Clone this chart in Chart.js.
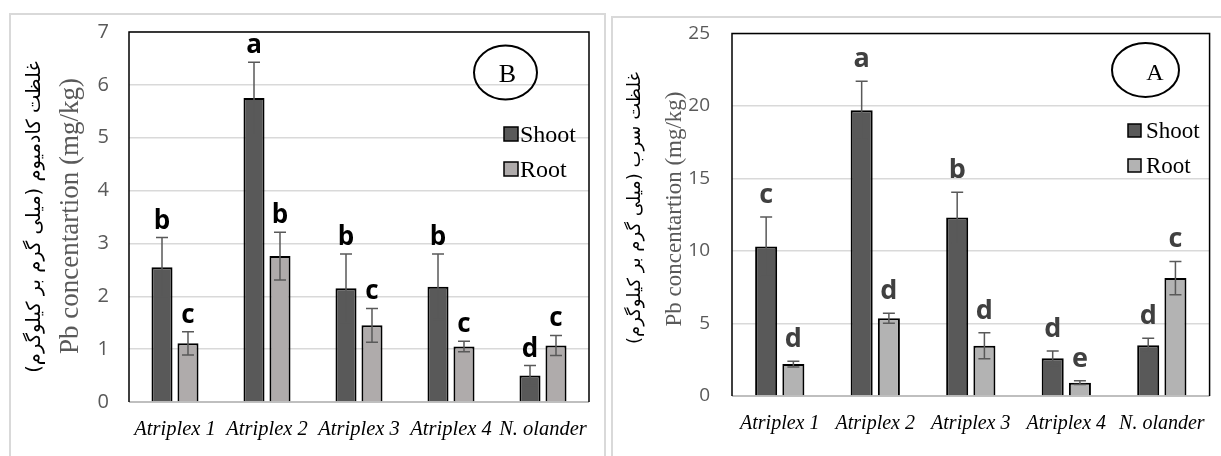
<!DOCTYPE html>
<html>
<head>
<meta charset="utf-8">
<script src="https://cdn.jsdelivr.net/npm/chart.js@4.4.1/dist/chart.umd.min.js"></script>
<style>
  html, body { margin: 0; padding: 0; background: #fff; }
  body { width: 1221px; height: 456px; position: relative; overflow: hidden; }
  .frame { position: absolute; box-sizing: border-box; border: 2px solid #d9d9d9; border-bottom: none; }
  #frameB { left: 9px; top: 13px; width: 597px; height: 460px; }
  #frameA { left: 611px; top: 16px; width: 700px; height: 460px; }
  canvas { position: absolute; top: 0; }
  #chartB { left: 0; }
  #chartA { left: 608px; }
</style>
</head>
<body>
<div class="frame" id="frameB"></div>
<div class="frame" id="frameA"></div>
<canvas id="chartB" width="608" height="456"></canvas>
<canvas id="chartA" width="613" height="456"></canvas>
<script>
const categories = ["Atriplex 1", "Atriplex 2", "Atriplex 3", "Atriplex 4", "N. olander"];

// B: cadmium
const cdShoot = [2.55, 5.75, 2.15, 2.18, 0.5];
const cdShootErr = [0.56, 0.68, 0.65, 0.62, 0.19];
const cdRoot = [1.11, 2.76, 1.45, 1.05, 1.07];
const cdRootErr = [0.22, 0.45, 0.32, 0.1, 0.19];
const cdShootLetters = ["b", "a", "b", "b", "d"];
const cdRootLetters = ["c", "b", "c", "c", "c"];

// A: lead
const pbShoot = [10.3, 19.7, 12.3, 2.6, 3.5];
const pbShootErr = [2.05, 2.0, 1.75, 0.5, 0.48];
const pbRoot = [2.2, 5.36, 3.46, 0.92, 8.13];
const pbRootErr = [0.2, 0.35, 0.9, 0.13, 1.15];
const pbShootLetters = ["c", "a", "b", "d", "d"];
const pbRootLetters = ["d", "d", "d", "e", "c"];

const SHOOT_COLOR = "#595959";
const ENGLISH_TITLE = "Pb concentartion (mg/kg)";

const decorPlugin = {
  id: "decor",
  beforeDatasetsDraw(chart) {
    const { ctx, chartArea: a } = chart;
    ctx.save();
    ctx.strokeStyle = "#bfbfbf";
    ctx.lineWidth = 2;
    ctx.beginPath();
    ctx.moveTo(a.left, a.bottom);
    ctx.lineTo(a.right, a.bottom);
    ctx.stroke();
    ctx.strokeStyle = "#000";
    ctx.lineWidth = 1.5;
    ctx.beginPath();
    ctx.moveTo(a.left, a.bottom);
    ctx.lineTo(a.left, a.top);
    ctx.lineTo(a.right, a.top);
    ctx.lineTo(a.right, a.bottom);
    ctx.stroke();
    ctx.restore();
  },
  afterDatasetsDraw(chart, args, opts) {
    const { ctx } = chart;
    const yScale = chart.scales.y;
    ctx.save();

    // error bars and letters
    chart.data.datasets.forEach((dataset, di) => {
      const meta = chart.getDatasetMeta(di);
      meta.data.forEach((bar, i) => {
        const v = dataset.data[i];
        const e = opts.errors[di][i];
        const yTop = yScale.getPixelForValue(v + e);
        const yBot = yScale.getPixelForValue(v - e);
        ctx.strokeStyle = "#595959";
        ctx.lineWidth = 1.5;
        ctx.beginPath();
        ctx.moveTo(bar.x, yTop);
        ctx.lineTo(bar.x, yBot);
        ctx.moveTo(bar.x - 6, yTop);
        ctx.lineTo(bar.x + 6, yTop);
        ctx.moveTo(bar.x - 6, yBot);
        ctx.lineTo(bar.x + 6, yBot);
        ctx.stroke();

        ctx.fillStyle = opts.letterColor;
        ctx.font = opts.letterFont;
        ctx.textAlign = "center";
        ctx.textBaseline = "alphabetic";
        ctx.fillText(opts.letters[di][i], bar.x, yTop - opts.letterGap);
      });
    });

    // legend
    const lg = opts.legend;
    chart.data.datasets.forEach((dataset, di) => {
      const y = lg.y + di * lg.step;
      ctx.fillStyle = dataset.backgroundColor;
      ctx.fillRect(lg.x, y, lg.box, lg.box);
      ctx.strokeStyle = "#000";
      ctx.lineWidth = 1.5;
      ctx.strokeRect(lg.x, y, lg.box, lg.box);
      ctx.fillStyle = "#000";
      ctx.font = lg.font;
      ctx.textAlign = "left";
      ctx.textBaseline = "alphabetic";
      ctx.fillText(dataset.label, lg.textX, y + lg.box + 1);
    });

    // panel badge
    const b = opts.badge;
    ctx.strokeStyle = "#000";
    ctx.lineWidth = 2;
    ctx.beginPath();
    ctx.ellipse(b.cx, b.cy, b.rx, b.ry, 0, 0, Math.PI * 2);
    ctx.stroke();
    ctx.fillStyle = "#000";
    ctx.font = b.font;
    ctx.textAlign = "center";
    ctx.fillText(b.text, b.tx, b.ty);

    // rotated axis titles
    opts.titles.forEach((t) => {
      ctx.save();
      ctx.translate(t.x, t.y);
      ctx.rotate(-Math.PI / 2);
      ctx.font = t.font;
      ctx.fillStyle = t.color;
      ctx.direction = t.rtl ? "rtl" : "ltr";
      ctx.textAlign = "center";
      ctx.textBaseline = "middle";
      ctx.fillText(t.text, 0, 0);
      ctx.restore();
    });
    ctx.restore();
  },
};

function makeChart(canvasId, setup) {
  return new Chart(document.getElementById(canvasId), {
    type: "bar",
    data: {
      labels: categories,
      datasets: [
        {
          label: "Shoot",
          data: setup.shoot,
          backgroundColor: SHOOT_COLOR,
          borderColor: "#000",
          borderWidth: 2,
          categoryPercentage: setup.catPct,
          barPercentage: 0.81,
        },
        {
          label: "Root",
          data: setup.root,
          backgroundColor: setup.rootColor,
          borderColor: "#000",
          borderWidth: 2,
          categoryPercentage: setup.catPct,
          barPercentage: 0.81,
        },
      ],
    },
    options: {
      responsive: false,
      animation: false,
      devicePixelRatio: 1,
      layout: { padding: setup.padding },
      plugins: {
        legend: { display: false },
        tooltip: { enabled: false },
        decor: setup.decor,
      },
      scales: {
        x: {
          grid: { display: false, drawTicks: false },
          border: { display: false },
          ticks: {
            color: "#000",
            font: { family: "Liberation Serif", size: setup.xFont, style: "italic" },
            padding: setup.xPad,
            maxRotation: 0,
            autoSkip: false,
          },
          afterFit: (s) => { s.height = setup.xHeight; },
        },
        y: {
          min: 0,
          max: setup.yMax,
          grid: { color: "#d9d9d9", lineWidth: 1.5, drawTicks: false },
          border: { display: false },
          ticks: {
            stepSize: setup.step,
            color: "#595959",
            font: { family: "Open Sans", size: setup.yFont },
            padding: setup.yPad,
          },
          afterFit: (s) => { s.width = setup.yWidth; },
        },
      },
    },
    plugins: [decorPlugin],
  });
}

makeChart("chartB", {
  shoot: cdShoot,
  root: cdRoot,
  rootColor: "#afabab",
  catPct: 0.565,
  yMax: 7,
  step: 1,
  padding: { left: 0, right: 19, top: 28, bottom: 0 },
  yWidth: 129,
  xHeight: 54,
  xFont: 20.5,
  xPad: 15,
  yFont: 20,
  yPad: 20,
  decor: {
    errors: [cdShootErr, cdRootErr],
    letters: [cdShootLetters, cdRootLetters],
    letterColor: "#000",
    letterFont: "bold 26px 'Open Sans'",
    letterGap: 9,
    legend: { x: 504, y: 127, step: 35, box: 14, textX: 520, font: "24px 'Liberation Serif'" },
    badge: { text: "B", cx: 505.5, cy: 72.5, rx: 31.5, ry: 27, tx: 507.5, ty: 82, font: "26px 'Liberation Serif'" },
    titles: [
      { text: "غلظت کادمیوم (میلی گرم بر کیلوگرم)", x: 35, y: 217, font: "19.5px 'DejaVu Sans'", color: "#000", rtl: true },
      { text: ENGLISH_TITLE, x: 71, y: 216, font: "27px 'Liberation Serif'", color: "#595959" },
    ],
  },
});

makeChart("chartA", {
  shoot: pbShoot,
  root: pbRoot,
  rootColor: "#b3b3b3",
  catPct: 0.57,
  yMax: 25,
  step: 5,
  padding: { left: 0, right: 4, top: 32, bottom: 0 },
  yWidth: 124,
  xHeight: 60,
  xFont: 20,
  xPad: 16,
  yFont: 19,
  yPad: 22,
  decor: {
    errors: [pbShootErr, pbRootErr],
    letters: [pbShootLetters, pbRootLetters],
    letterColor: "#404040",
    letterFont: "bold 27px 'Open Sans'",
    letterGap: 14,
    legend: { x: 520, y: 124, step: 35, box: 13, textX: 538, font: "23px 'Liberation Serif'" },
    badge: { text: "A", cx: 537.5, cy: 70, rx: 33.5, ry: 27, tx: 547, ty: 80, font: "24px 'Liberation Serif'" },
    titles: [
      { text: "غلظت سرب (میلی گرم بر کیلوگرم)", x: 27, y: 208, font: "18px 'DejaVu Sans'", color: "#000", rtl: true },
      { text: ENGLISH_TITLE, x: 67, y: 209, font: "23px 'Liberation Serif'", color: "#595959" },
    ],
  },
});
</script>
</body>
</html>
